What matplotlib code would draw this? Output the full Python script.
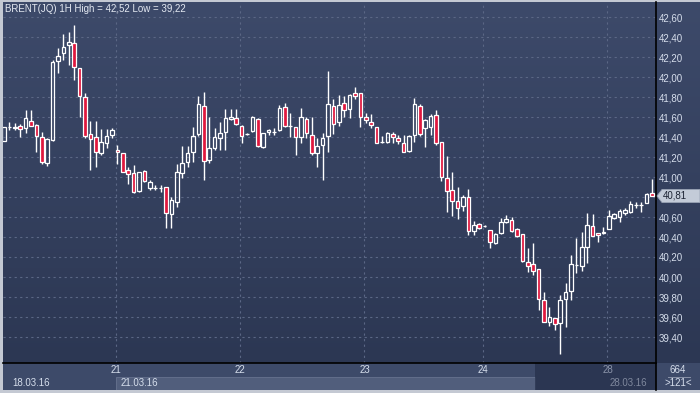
import numpy as np
import matplotlib.pyplot as plt
from matplotlib.patches import Rectangle, Polygon
from matplotlib.colors import LinearSegmentedColormap
from matplotlib.transforms import blended_transform_factory

# hourly BRENT candles
opens = [41.36, 41.50, 41.49, 41.51, 41.49, 41.56, 41.52, 41.40, 41.14, 41.37,
         42.16, 42.24, 42.32, 42.34, 42.09, 41.80, 41.43, 41.40, 41.24, 41.34,
         41.42, 41.27, 41.24, 41.07, 41.04, 40.86, 41.06, 40.89, 40.89, 40.89,
         40.90, 40.63, 40.75, 41.04, 41.15, 41.25, 41.43, 41.71, 41.17, 41.29,
         41.39, 41.45, 41.58, 41.59, 41.51, 41.43, 41.46, 41.58, 41.30, 41.45,
         41.45, 41.47, 41.70, 41.51, 41.50, 41.40, 41.58, 41.42, 41.24, 41.32,
         41.41, 41.71, 41.55, 41.74, 41.68, 41.84, 41.84, 41.60, 41.55, 41.50,
         41.35, 41.35, 41.43, 41.39, 41.34, 41.26, 41.42, 41.71, 41.49, 41.50,
         41.62, 41.35, 40.99, 40.87, 40.76, 40.71, 40.80, 40.46, 40.53, 40.51,
         40.47, 40.34, 40.44, 40.55, 40.57, 40.48, 40.43, 40.15, 40.13, 40.08,
         39.77, 39.55, 39.59, 39.54, 39.78, 39.86, 40.12, 40.11, 40.30, 40.51,
         40.44, 40.44, 40.48, 40.59, 40.60, 40.64, 40.65, 40.72, 40.72, 40.74,
         40.84]
highs = [41.50, 41.55, 41.54, 41.53, 41.67, 41.67, 41.53, 41.45, 41.39, 42.17,
         42.29, 42.43, 42.45, 42.52, 42.09, 41.84, 41.56, 41.56, 41.48, 41.48,
         41.49, 41.32, 41.24, 41.10, 41.12, 41.05, 41.07, 40.97, 40.92, 40.92,
         40.90, 40.80, 41.13, 41.31, 41.31, 41.50, 41.81, 41.85, 41.60, 41.49,
         41.55, 41.68, 41.68, 41.68, 41.52, 41.44, 41.61, 41.59, 41.44, 41.48,
         41.49, 41.72, 41.74, 41.64, 41.50, 41.69, 41.60, 41.60, 41.39, 41.44,
         42.06, 41.78, 41.82, 41.81, 41.83, 41.90, 41.84, 41.64, 41.63, 41.50,
         41.41, 41.45, 41.45, 41.42, 41.42, 41.42, 41.79, 41.73, 41.58, 41.63,
         41.67, 41.35, 41.21, 41.05, 40.90, 40.82, 40.88, 40.56, 40.54, 40.52,
         40.47, 40.44, 40.59, 40.62, 40.60, 40.49, 40.43, 40.29, 40.34, 40.08,
         39.85, 39.70, 39.59, 39.82, 39.94, 40.22, 40.39, 40.45, 40.64, 40.63,
         40.44, 40.50, 40.67, 40.64, 40.68, 40.69, 40.76, 40.75, 40.75, 40.84,
         40.98]
lows = [41.36, 41.47, 41.47, 41.40, 41.44, 41.51, 41.25, 41.13, 41.11, 41.36,
        42.04, 42.17, 42.12, 41.97, 41.60, 41.39, 41.07, 41.10, 41.22, 41.29,
        41.39, 41.13, 41.05, 40.93, 40.84, 40.85, 40.95, 40.87, 40.87, 40.85,
        40.49, 40.49, 40.70, 40.99, 41.10, 41.15, 41.41, 40.97, 41.14, 41.27,
        41.27, 41.27, 41.57, 41.52, 41.34, 41.42, 41.45, 41.30, 41.29, 41.42,
        41.42, 41.46, 41.50, 41.40, 41.22, 41.34, 41.39, 41.22, 41.10, 40.97,
        41.25, 41.43, 41.51, 41.60, 41.59, 41.78, 41.50, 41.54, 41.49, 41.34,
        41.34, 41.34, 41.34, 41.33, 41.25, 41.25, 41.35, 41.41, 41.30, 41.42,
        41.32, 40.96, 40.65, 40.61, 40.58, 40.66, 40.42, 40.42, 40.48, 40.50,
        40.29, 40.33, 40.43, 40.54, 40.45, 40.40, 40.15, 40.05, 40.02, 39.67,
        39.55, 39.51, 39.47, 39.23, 39.50, 39.77, 40.04, 40.06, 40.14, 40.41,
        40.35, 40.43, 40.48, 40.58, 40.55, 40.62, 40.64, 40.69, 40.65, 40.74,
        40.81]
closes = [41.50, 41.50, 41.50, 41.48, 41.59, 41.51, 41.41, 41.15, 41.38, 42.15,
          42.21, 42.30, 42.35, 42.10, 41.81, 41.41, 41.38, 41.25, 41.35, 41.41,
          41.47, 41.25, 41.05, 41.03, 40.85, 41.05, 40.96, 40.95, 40.89, 40.89,
          40.64, 40.77, 41.05, 41.14, 41.24, 41.41, 41.73, 41.16, 41.29, 41.40,
          41.44, 41.59, 41.60, 41.53, 41.41, 41.43, 41.60, 41.31, 41.44, 41.47,
          41.45, 41.69, 41.51, 41.51, 41.40, 41.60, 41.44, 41.24, 41.31, 41.39,
          41.73, 41.53, 41.72, 41.67, 41.82, 41.81, 41.60, 41.57, 41.52, 41.34,
          41.35, 41.44, 41.40, 41.36, 41.25, 41.41, 41.73, 41.43, 41.57, 41.61,
          41.34, 41.00, 40.86, 40.76, 40.69, 40.80, 40.46, 40.52, 40.49, 40.51,
          40.35, 40.43, 40.55, 40.58, 40.46, 40.41, 40.16, 40.11, 40.06, 39.78,
          39.55, 39.60, 39.53, 39.77, 39.85, 40.13, 40.12, 40.30, 40.52, 40.41,
          40.42, 40.45, 40.61, 40.63, 40.66, 40.67, 40.73, 40.72, 40.72, 40.83,
          40.81]

price_ticks = [39.4, 39.6, 39.8, 40.0, 40.2, 40.4, 40.6, 40.8, 41.0,
               41.2, 41.4, 41.6, 41.8, 42.0, 42.2, 42.4, 42.6]
day_labels = ['21', '22', '23', '24', '28']
day_start_bar = [21, 44, 67, 89, 112]
title_text = 'BRENT(JQ) 1H High = 42,52 Low = 39,22'
nav_dates = ['18.03.16', '21.03.16', '28.03.16']
total_bars = '664'
shown_bars = '>121<'

W, H = 700, 393
BG_TOP, BG_BOT = '#3d4a6a', '#2c3753'
PANEL = '#3d4a69'
TXT = '#d6deec'
RED = '#e0183e'
plt.rcParams['font.family'] = ['Liberation Sans', 'DejaVu Sans']
FS = 7


def px(x0, y0, x1, y1):
    # pixel box, origin top-left -> figure rect
    return [x0 / W, 1 - y1 / H, (x1 - x0) / W, (y1 - y0) / H]


def bare(a):
    a.set_xticks([])
    a.set_yticks([])
    for s in a.spines.values():
        s.set_visible(False)


fig = plt.figure(figsize=(W / 100, H / 100), dpi=100)
fig.patch.set_facecolor('#c4c9d3')

# navigator strip under the chart
n = len(closes)
x = np.arange(n)
step = 5.4
xmin = (3 - 4) / step
xmax = (656 - 4) / step

nav = fig.add_axes(px(3, 363, 656, 390))
nav.set_xlim(xmin, xmax)
nav.set_ylim(0, 27)
nav.set_facecolor(PANEL)
bare(nav)
win_start = day_start_bar[0] - 0.25
win_end = (535 - 4) / step
nav.add_patch(Rectangle((win_start, 0), win_end - win_start, 13,
                        facecolor='#515e7c', edgecolor='#67738f', lw=0.6))
nav.add_patch(Rectangle((win_end, 0), xmax - win_end, 27,
                        facecolor='#27324d', edgecolor='none', alpha=0.8))
nav.text((12 - 4) / step, 6.5, nav_dates[0], fontsize=FS, color=TXT,
         va='center', ha='left')
nav.text(win_start + 0.8, 6.5, nav_dates[1], fontsize=FS, color=TXT,
         va='center', ha='left')
nav.text((647 - 4) / step, 6.5, nav_dates[2], fontsize=FS, color='#7f889d',
         va='center', ha='right')

# bar count corner
corner = fig.add_axes(px(656, 363, 700, 390))
corner.set_xlim(0, 44)
corner.set_ylim(0, 27)
corner.set_facecolor(PANEL)
bare(corner)
corner.text(22, 20, total_bars, fontsize=FS, color=TXT, ha='center', va='center')
corner.plot([12, 34], [13.5, 13.5], color='#8a93a8', lw=0.7)
corner.text(22, 6.5, shown_bars, fontsize=FS, color=TXT, ha='center', va='center')
corner.spines['left'].set_visible(True)
corner.spines['left'].set_color('black')
corner.spines['left'].set_linewidth(1.2)

# gradient background behind chart and price scale
bg = fig.add_axes(px(3, 2, 700, 363))
grad = np.linspace(0, 1, 256).reshape(-1, 1)
cmap = LinearSegmentedColormap.from_list('bg', [BG_TOP, BG_BOT])
bg.imshow(grad, aspect='auto', cmap=cmap, extent=[0, 1, 0, 1])
bg.set_axis_off()

ax = fig.add_axes(px(3, 2, 656, 363))
ax.set_facecolor('none')
ax.set_xlim(xmin, xmax)
ax.set_ylim(39.14, 42.75)

o = np.array(opens)
c = np.array(closes)
hi = np.array(highs)
lo = np.array(lows)
top = np.maximum(o, c)
bot = np.minimum(o, c)
up = c >= o

ax.vlines(x, top, hi, color='white', lw=1.0, zorder=3)
ax.vlines(x, lo, bot, color='white', lw=1.0, zorder=3)
ax.bar(x, top - bot, bottom=bot, width=0.68,
       color=np.where(up, 'none', RED).tolist(),
       edgecolor='white', linewidth=0.9, zorder=4)

last = closes[-1]
ax.set_yticks(price_ticks)
# the label next to the last price is covered by the price marker
ax.set_yticklabels(['' if abs(v - last) < 0.1 else f'{v:.2f}'.replace('.', ',')
                    for v in price_ticks])
ax.yaxis.tick_right()
ax.tick_params(axis='y', length=0, pad=2, labelsize=FS, labelcolor=TXT)
ax.set_xticks([s - 0.25 for s in day_start_bar])
ax.set_xticklabels(day_labels)
ax.tick_params(axis='x', length=0, pad=1.5, labelsize=FS, labelcolor=TXT)
ax.get_xticklabels()[-1].set_color('#8c95aa')
ax.grid(True, color='#5b6785', linestyle=(0, (2, 3)), lw=0.8)
for s in ['top', 'left']:
    ax.spines[s].set_visible(False)
ax.spines['right'].set_color('black')
ax.spines['right'].set_linewidth(1.2)
ax.spines['bottom'].set_color('black')
ax.spines['bottom'].set_linewidth(1.2)

ax.text(2 / 653, 1 - 7 / 361, title_text, transform=ax.transAxes,
        fontsize=FS, color='#e4e9f2', va='center', ha='left')

# last price marker
tr = blended_transform_factory(fig.transFigure, ax.transData)
hh = 0.065
marker = Polygon([(657 / W, last), (662 / W, last + hh), (700 / W, last + hh),
                  (700 / W, last - hh), (662 / W, last - hh)],
                 closed=True, transform=tr, facecolor='#c3cbd8',
                 edgecolor='#9aa3b5', lw=0.6, zorder=5, clip_on=False)
fig.add_artist(marker)
fig.text(663 / W, 1 - 196 / H, f'{last:.2f}'.replace('.', ','), fontsize=FS,
         color='#1c2333', va='center', ha='left', zorder=6)

fig.savefig('out.png', dpi=100, facecolor=fig.get_facecolor())
